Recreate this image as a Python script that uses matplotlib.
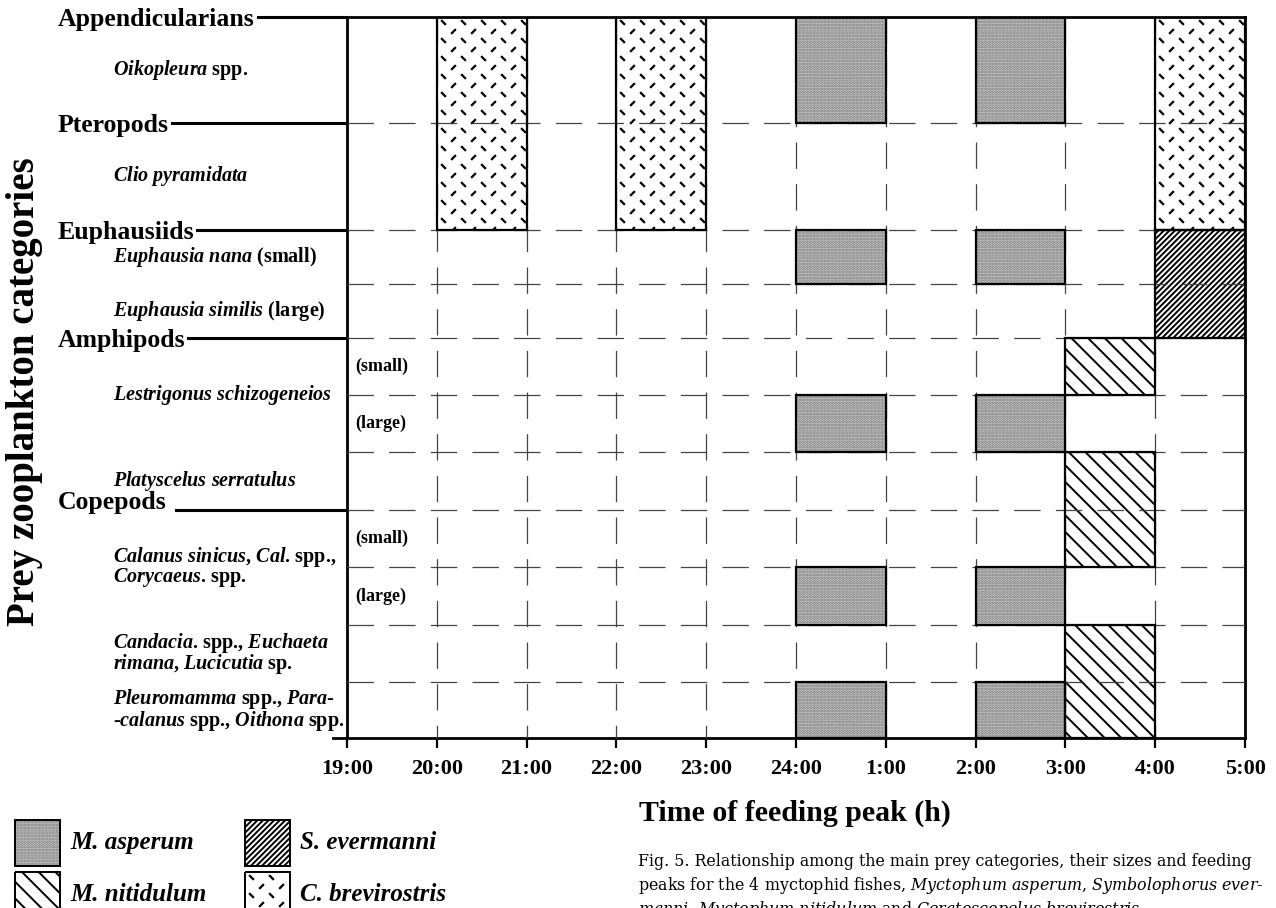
import numpy as np
import matplotlib
matplotlib.use("Agg")
import matplotlib.pyplot as plt
from matplotlib.patches import Rectangle
from matplotlib.lines import Line2D

plt.rcParams['font.family'] = 'Liberation Serif'
plt.rcParams['mathtext.fontset'] = 'custom'
plt.rcParams['mathtext.rm'] = 'Liberation Serif:bold'
plt.rcParams['mathtext.it'] = 'Liberation Serif:italic:bold'
plt.rcParams['mathtext.bf'] = 'Liberation Serif:bold'
plt.rcParams['hatch.linewidth'] = 1.4
plt.rcParams['lines.scale_dashes'] = False

# time axis (hours, 24:00 = 24, 1:00 = 25, ...)
hours = np.arange(19, 30)
hour_labels = ['19:00', '20:00', '21:00', '22:00', '23:00', '24:00',
               '1:00', '2:00', '3:00', '4:00', '5:00']

# fish species
species = ['M. asperum', 'M. nitidulum', 'S. evermanni', 'C. brevirostris']

# prey rows, top to bottom
prey_rows = ['Oikopleura spp.', 'Clio pyramidata', 'Euphausia nana (small)',
             'Euphausia similis (large)', 'Lestrigonus (small)', 'Lestrigonus (large)',
             'Platyscelus serratulus', 'Calanus etc. (small)', 'Calanus etc. (large)',
             'Candacia etc.', 'Pleuromamma etc.']

# prey groups and the row where each one starts
groups = ['Appendicularians', 'Pteropods', 'Euphausiids', 'Amphipods', 'Copepods']
group_row = [0, 1, 2, 4, 7]

# feeding peaks: species index, start hour, end hour, first row, last row
peak_sp    = [3, 3, 3,   0, 0, 0, 0, 0, 0, 0, 0, 0, 0,   2,   1, 1, 1]
peak_start = [20, 22, 28, 24, 26, 24, 26, 24, 26, 24, 26, 24, 26, 28, 27, 27, 27]
peak_end   = [21, 23, 29, 25, 27, 25, 27, 25, 27, 25, 27, 25, 27, 29, 28, 28, 28]
peak_row0  = [0, 0, 0,   0, 0, 2, 2, 5, 5, 8, 8, 10, 10, 2,   4, 6, 9]
peak_row1  = [1, 1, 1,   0, 0, 2, 2, 5, 5, 8, 8, 10, 10, 3,   4, 7, 10]

# row labels on the left (text, position in row units)
row_text = [r'$\mathit{Oikopleura}$ spp.',
            r'$\mathit{Clio\ pyramidata}$',
            r'$\mathit{Euphausia\ nana}$ (small)',
            r'$\mathit{Euphausia\ similis}$ (large)',
            r'$\mathit{Lestrigonus\ schizogeneios}$',
            r'$\mathit{Platyscelus\ serratulus}$',
            r'$\mathit{Calanus\ sinicus}$, $\mathit{Cal}$. spp.,' + '\n' + r'$\mathit{Corycaeus}$. spp.',
            r'$\mathit{Candacia}$. spp., $\mathit{Euchaeta}$' + '\n' + r'$\mathit{rimana}$, $\mathit{Lucicutia}$ sp.',
            r'$\mathit{Pleuromamma}$ spp., $\mathit{Para}$-' + '\n' + r'-$\mathit{calanus}$ spp., $\mathit{Oithona}$ spp.']
row_text_pos = [0.5, 1.5, 2.5, 3.5, 5.0, 6.5, 8.0, 9.5, 10.5]

size_text = ['(small)', '(large)', '(small)', '(large)']
size_pos = [4.5, 5.5, 7.5, 8.5]

caption = ['Fig. 5. Relationship among the main prey categories, their sizes and feeding',
           r'peaks for the 4 myctophid fishes, $\mathit{Myctophum\ asperum}$, $\mathit{Symbolophorus\ ever}$-',
           r'$\mathit{manni}$, $\mathit{Myctophum\ nitidulum}$ and $\mathit{Ceratoscopelus\ brevirostris}$']

# layout: row heights (pixels)
row_h = [106, 107, 54, 54, 57, 57, 58, 57, 58, 57, 56]
edges = np.concatenate([[0], np.cumsum(row_h)])


def row_y(pos):
    return np.interp(pos, np.arange(len(edges)), edges)


styles = [dict(facecolor='#d6d6d6', edgecolor='#707070', hatch='......'),
          dict(facecolor='white', edgecolor='k', hatch='\\\\'),
          dict(facecolor='white', edgecolor='k', hatch='//////'),
          dict(facecolor='white', edgecolor='k', hatch=None)]


def brev_marks(ax, patch, x0, x1, y0, y1, sx, sy):
    xs = np.arange(x0 + sx * 0.3, x1, sx)
    ys = np.arange(y0 + sy * 0.3, y1, sy)
    X, Y = np.meshgrid(xs, ys)
    a, = ax.plot(X.ravel(), Y.ravel(), ls='none', marker=[(-1, 1), (1, -1)],
                 ms=3.4, mew=1.6, color='k', zorder=2.5)
    b, = ax.plot(X.ravel() + sx / 2, Y.ravel() + sy / 2, ls='none', marker=[(-1, -1), (1, 1)],
                 ms=3.4, mew=1.6, color='k', zorder=2.5)
    a.set_clip_path(patch)
    b.set_clip_path(patch)


fig = plt.figure(figsize=(12.76, 9.08), dpi=100)
ax = fig.add_axes([347 / 1276, 1 - 738 / 908, 898 / 1276, 721 / 908])
ax.set_xlim(19, 29)
ax.set_ylim(edges[-1], 0)
px_hour = 898 / 10

# bars
for sp, t0, t1, r0, r1 in zip(peak_sp, peak_start, peak_end, peak_row0, peak_row1):
    y0, y1 = edges[r0], edges[r1 + 1]
    bars = ax.bar(t0, y1 - y0, width=t1 - t0, bottom=y0, align='edge',
                  linewidth=0, zorder=2, **styles[sp])
    if sp == 3:
        brev_marks(ax, bars.patches[0], t0, t1, y0, y1, 20 / px_hour, 18)
    ax.bar(t0, y1 - y0, width=t1 - t0, bottom=y0, align='edge', fill=False,
           edgecolor='k', linewidth=1.6, zorder=4)

# dashed grid
ax.hlines(edges[1:-1], 19, 29, colors='#444444', linewidth=0.9,
          linestyles=(0, (19, 11)), zorder=3)
ax.vlines(hours[1:-1], 0, edges[-1], colors='#444444', linewidth=0.9,
          linestyles=(0, (19, 11)), zorder=3)

for s in ax.spines.values():
    s.set_linewidth(2)
ax.set_xticks(hours)
ax.set_xticklabels(hour_labels, fontsize=16, fontweight='bold')
ax.tick_params(axis='x', direction='out', length=7, width=1.6, pad=8)
ax.set_yticks([])
ax.add_line(Line2D([-0.016, 0], [0, 0], transform=ax.transAxes, color='k',
                   linewidth=2, clip_on=False))

ytr = ax.get_yaxis_transform()

# group labels with lines to the axis
group_texts = []
for name, r in zip(groups, group_row):
    if name == 'Copepods':
        t = ax.text(-0.322, edges[r] - 1, name, transform=ytr, fontsize=18.5,
                    fontweight='bold', ha='left', va='baseline')
    else:
        t = ax.text(-0.322, edges[r], name, transform=ytr, fontsize=18.5,
                    fontweight='bold', ha='left', va='center_baseline')
    group_texts.append(t)

for txt, pos in zip(row_text, row_text_pos):
    ax.text(-0.261, row_y(pos), txt, transform=ytr, fontsize=14.5, fontweight='bold',
            ha='left', va='center', linespacing=0.85)

for txt, pos in zip(size_text, size_pos):
    ax.text(19.09, row_y(pos), txt, fontsize=13, fontweight='bold', ha='left',
            va='center', zorder=5)

fig.text(25 / 1276, 1 - 392 / 908, 'Prey zooplankton categories', rotation=90,
         fontsize=28, fontweight='bold', ha='center', va='center')
fig.text(795 / 1276, 1 - 813 / 908, 'Time of feeding peak (h)', fontsize=21.5,
         fontweight='bold', ha='center', va='center')

fig.canvas.draw()
renderer = fig.canvas.get_renderer()
inv = ax.transAxes.inverted()
for t, r in zip(group_texts, group_row):
    bb = t.get_window_extent(renderer)
    gap = 9 if t.get_text() == 'Copepods' else 3
    xa = inv.transform((bb.x1 + gap, 0))[0]
    ax.add_line(Line2D([xa, 0], [edges[r], edges[r]], transform=ytr, color='k',
                       linewidth=2.2, clip_on=False))

# legend (pixel coordinates)
lax = fig.add_axes([0, 0, 470 / 1276, 108 / 908])
lax.set_xlim(0, 470)
lax.set_ylim(908, 800)
lax.axis('off')
leg_x = [15, 15, 245, 245]
leg_y = [820, 872, 820, 872]
for i, name in enumerate(species):
    x0, y0 = leg_x[i], leg_y[i]
    p = Rectangle((x0, y0), 45, 46, linewidth=0, **styles[i])
    lax.add_patch(p)
    if i == 3:
        brev_marks(lax, p, x0, x0 + 45, y0, y0 + 46, 20, 18)
    lax.add_patch(Rectangle((x0, y0), 45, 46, fill=False, edgecolor='k',
                            linewidth=1.4, zorder=4, clip_on=False))
    lax.text(x0 + 55, y0 + 22, name, fontsize=18, fontstyle='italic',
             fontweight='bold', ha='left', va='center')

# caption
for i, line in enumerate(caption):
    fig.text(638 / 1276, 1 - (866 + 24 * i) / 908, line, fontsize=11.4,
             family='DejaVu Serif', math_fontfamily='dejavuserif',
             ha='left', va='baseline')

fig.savefig('out.png', dpi=100)
